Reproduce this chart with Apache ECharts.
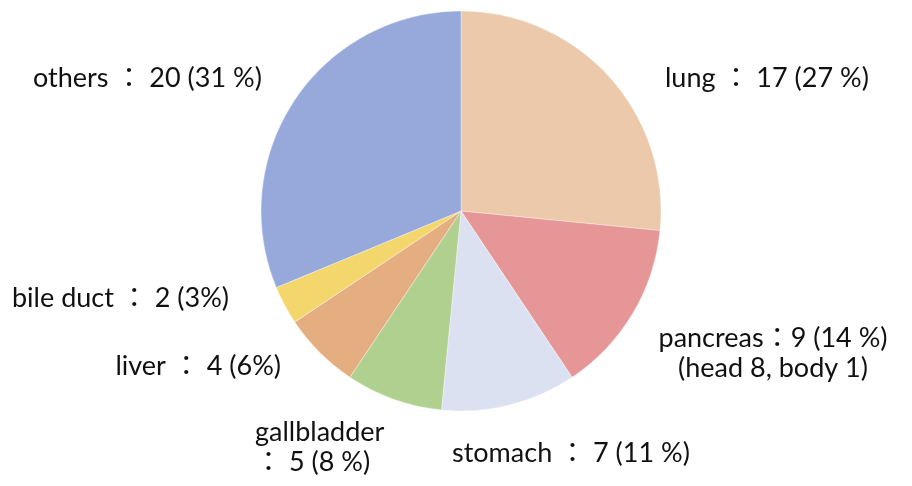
<!DOCTYPE html>
<html>
<head>
<meta charset="utf-8">
<script src="https://cdn.jsdelivr.net/npm/echarts@6/dist/echarts.min.js"></script>
<style>
  html, body { margin: 0; padding: 0; background: #fff; }
  #main { width: 912px; height: 486px; }
</style>
</head>
<body>
<div id="main"></div>
<script>
const names = ['lung', 'pancreas', 'stomach', 'gallbladder', 'liver', 'bile duct', 'others'];
const counts = [17, 9, 7, 5, 4, 2, 20];
const labelTexts = [
  'lung ： 17 (27 %)',
  'pancreas：9 (14 %)\n(head 8, body 1)',
  'stomach ： 7 (11 %)',
  'gallbladder\n： 5 (8 %)',
  'liver ： 4 (6%)',
  'bile duct ： 2 (3%)',
  'others ： 20 (31 %)'
];
const colors = ['#EBC9AA', '#E69697', '#DCE1F2', '#B0D08F', '#E5AE81', '#F3D76D', '#96A9DA'];

// where each label sits (x, y, align)
const labelPos = [
  [665, 78, 'left'],
  [773, 353, 'center'],
  [452, 453, 'left'],
  [255, 447, 'left'],
  [281, 366, 'right'],
  [12, 298, 'left'],
  [33, 78, 'left']
];

const myChart = echarts.init(document.getElementById('main'));

const option = {
  animation: false,
  series: [{
    type: 'pie',
    center: [461, 211],
    radius: 200,
    startAngle: 90,
    clockwise: true,
    itemStyle: {
      borderWidth: 0.6,
      borderColor: 'rgba(255,255,255,0.6)'
    },
    label: {
      show: true,
      position: 'outside',
      color: '#111',
      fontFamily: 'Lato, "Noto Sans CJK JP", sans-serif',
      fontSize: 27,
      lineHeight: 30,
      overflow: 'none',
      formatter: function (p) {
        return labelTexts[p.dataIndex];
      }
    },
    labelLine: { show: false },
    labelLayout: function (params) {
      const pos = labelPos[params.dataIndex];
      return {
        x: pos[0],
        y: pos[1],
        align: pos[2],
        verticalAlign: 'middle'
      };
    },
    data: names.map(function (n, i) {
      return { name: n, value: counts[i], itemStyle: { color: colors[i] } };
    })
  }]
};

myChart.setOption(option);
</script>
</body>
</html>
